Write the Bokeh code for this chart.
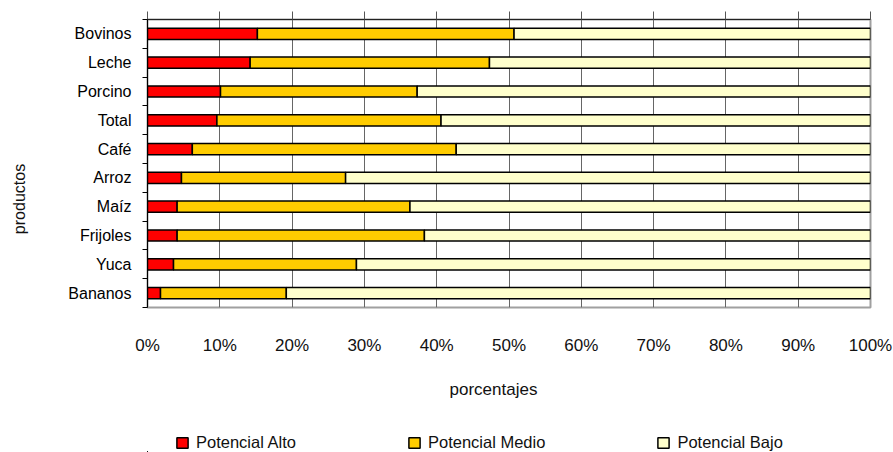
import math
from bokeh.plotting import figure
from bokeh.models import (Range1d, FixedTicker, LinearAxis, Legend, LegendItem,
                          Title, Label, ColumnDataSource)
from bokeh.layouts import row, column
from bokeh.embed import file_html
from bokeh.resources import INLINE

# ---- data (bottom to top) ----
productos = ["Bananos", "Yuca", "Frijoles", "Maíz", "Arroz",
             "Café", "Total", "Porcino", "Leche", "Bovinos"]
alto = [1.8, 3.6, 4.1, 4.1, 4.7, 6.2, 9.6, 10.1, 14.2, 15.2]
medio = [17.4, 25.3, 34.2, 32.2, 22.7, 36.5, 31.0, 27.2, 33.1, 35.5]
bajo = [80.8, 71.1, 61.7, 63.7, 72.6, 57.3, 59.4, 62.7, 52.7, 49.3]
series = ["Potencial Alto", "Potencial Medio", "Potencial Bajo"]
colors = ["#FF0000", "#FFCC00", "#FFFFCC"]
x_ticks = [0, 10, 20, 30, 40, 50, 60, 70, 80, 90, 100]
x_tick_labels = ["0%", "10%", "20%", "30%", "40%", "50%",
                 "60%", "70%", "80%", "90%", "100%"]
x_title = "porcentajes"
y_title = "productos"

SANS = "Liberation Sans"
LEFT_W = 40
MAIN_H = 418
W, H = 893, 452

ypos = list(range(len(productos)))
source = ColumnDataSource(dict(y=ypos, alto=alto, medio=medio, bajo=bajo))

# ---------------- main chart ----------------
p = figure(width=W - LEFT_W, height=MAIN_H, output_backend="svg", toolbar_location=None,
           x_range=Range1d(0, 100), y_range=Range1d(-0.5, len(productos) - 0.5))
p.min_border = 0
p.min_border_left = 147 - LEFT_W
p.min_border_right = 23
p.min_border_top = 19
p.min_border_bottom = MAIN_H - 307
p.background_fill_color = "white"
p.border_fill_color = "white"
p.outline_line_color = "#a0a0a0"
p.outline_line_width = 2

renderers = p.hbar_stack(["alto", "medio", "bajo"], y="y", height=0.39,
                         fill_color=colors, line_color="black", line_width=1.5,
                         source=source)

p.ygrid.grid_line_color = None
p.xgrid.ticker = FixedTicker(ticks=x_ticks)
p.xgrid.grid_line_color = "#666666"
p.xgrid.grid_line_width = 1

xa = p.below[0]
xa.ticker = FixedTicker(ticks=x_ticks)
xa.major_label_overrides = {t: l for t, l in zip(x_ticks, x_tick_labels)}
xa.axis_line_color = None
xa.major_tick_line_color = None
xa.minor_tick_line_color = None
xa.major_tick_out = 0
xa.major_tick_in = 0
xa.major_label_standoff = 28
xa.major_label_text_font = SANS
xa.major_label_text_font_size = "17px"
xa.major_label_text_color = "#111111"

ta = LinearAxis(ticker=FixedTicker(ticks=x_ticks))
ta.axis_line_color = "#222222"
ta.major_tick_line_color = "#555555"
ta.major_tick_out = 8
ta.major_tick_in = 0
ta.minor_tick_line_color = None
ta.major_label_overrides = {t: "" for t in x_ticks}
ta.major_label_standoff = 0
p.add_layout(ta, "above")

ya = p.left[0]
ya.ticker = FixedTicker(ticks=ypos, minor_ticks=[i - 0.5 for i in range(len(productos) + 1)])
ya.major_label_overrides = {i: n for i, n in zip(ypos, productos)}
ya.major_tick_out = 0
ya.major_tick_in = 0
ya.major_tick_line_color = None
ya.minor_tick_out = 5
ya.minor_tick_in = 0
ya.minor_tick_line_color = "black"
ya.axis_line_color = "black"
ya.major_label_standoff = 11
ya.major_label_text_font = SANS
ya.major_label_text_font_size = "16px"
ya.major_label_text_color = "black"

t_below = Title(text=x_title, align="left", offset=302, standoff=40, text_font=SANS,
                text_font_size="17px", text_font_style="normal", text_color="#111111")
p.add_layout(t_below, "below")

# ---------------- left strip with the y title ----------------
lf = figure(width=LEFT_W, height=H, output_backend="svg", toolbar_location=None,
            x_range=Range1d(0, 1), y_range=Range1d(0, 1),
            x_axis_location=None, y_axis_location=None)
lf.min_border = 0
lf.outline_line_color = None
lf.grid.visible = False
lf.add_layout(Label(x=18.5, y=H - 198.5, x_units="screen", y_units="screen",
                    text=y_title, angle=math.pi / 2, text_align="center",
                    text_baseline="middle", text_font=SANS, text_font_size="16px",
                    text_color="#111111"))

# ---------------- legend strip (same series, bars kept far out of view) ----------------
lg = figure(width=W - LEFT_W, height=H - MAIN_H, output_backend="svg", toolbar_location=None,
            x_range=Range1d(1000, 1001), y_range=Range1d(1000, 1001),
            x_axis_location=None, y_axis_location=None)
lg.min_border = 0
lg.outline_line_color = None
lg.grid.visible = False
leg_r = lg.hbar_stack(["alto", "medio", "bajo"], y="y", height=0.39,
                      fill_color=colors, line_color="black", line_width=1.5,
                      source=source)
legend = Legend(items=[LegendItem(label=s, renderers=[r]) for s, r in zip(series, leg_r)],
                orientation="horizontal", location=(28, 0),
                glyph_width=14, glyph_height=13, label_standoff=7, spacing=111,
                padding=0, margin=0, border_line_color=None, background_fill_alpha=0,
                label_text_font=SANS, label_text_font_size="16.5px",
                label_text_color="#111111")
lg.add_layout(legend, "center")

layout = row(lf, column(p, lg))
open("out.html", "w").write(file_html(layout, INLINE))
